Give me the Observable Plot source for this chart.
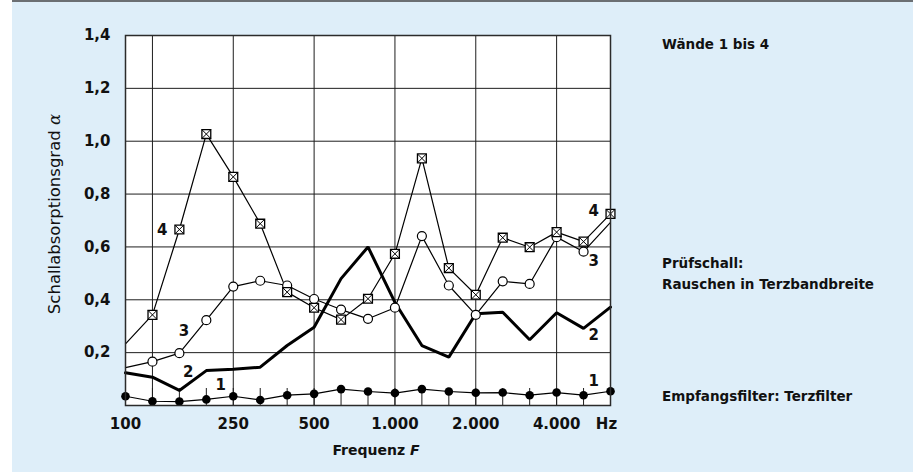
<!DOCTYPE html>
<html><head><meta charset="utf-8">
<script src="https://cdn.jsdelivr.net/npm/d3@7"></script>
<script src="https://cdn.jsdelivr.net/npm/@observablehq/plot@0.6"></script>
<style>
body{margin:0;background:#fff;}
#wrap{position:relative;width:913px;height:472px;overflow:hidden;}
#bg{position:absolute;left:12px;top:0;width:901px;height:472px;background:#deeef9;border-top:2px solid #6b6f73;box-sizing:border-box;}
#chart{position:absolute;left:0;top:0;}
</style></head><body>
<div id="wrap"><div id="bg"></div><div id="chart"></div></div>
<script>
// third-octave band centre frequencies (Hz)
const freqs = ["100","125","160","200","250","315","400","500","630","800","1000","1250","1600","2000","2500","3150","4000","5000","6300"];
// absorption coefficient alpha for walls 1..4
const wall1 = [0.035,0.016,0.015,0.023,0.035,0.021,0.039,0.044,0.062,0.053,0.047,0.062,0.053,0.048,0.049,0.039,0.049,0.039,0.054];
const wall2 = [0.124,0.107,0.057,0.132,0.137,0.145,0.227,0.296,0.480,0.600,0.390,0.227,0.183,0.347,0.353,0.249,0.351,0.292,0.372];
const wall3 = [0.143,0.166,0.198,0.323,0.450,0.472,0.454,0.403,0.363,0.328,0.370,0.641,0.454,0.343,0.470,0.460,0.637,0.582,0.693];
const wall4 = [0.233,0.343,0.666,1.027,0.865,0.688,0.429,0.370,0.325,0.404,0.574,0.935,0.520,0.419,0.635,0.599,0.656,0.620,0.725];
// axis ticks
const xTickFreqs = ["100","250","500","1000","2000","4000"];
const xTickLabels = ["100","250","500","1.000","2.000","4.000"];
const xGridFreqs = ["125","250","500","1000","2000","4000"];
const unitFreq = "6300";
const unitLabel = "Hz";
const yTicks = [0.2,0.4,0.6,0.8,1.0,1.2,1.4];
// curve numbers (band position, alpha)
const labelNames = ["4","3","2","1","4","3","2","1"];
const labelBand  = [1.36,2.17,2.33,3.53,17.38,17.38,17.38,17.38];
const labelAlpha = [0.665,0.280,0.126,0.077,0.737,0.545,0.265,0.092];
// texts
const yTitle = "Schallabsorptionsgrad ";
const yTitleSym = "α";
const xTitle = "Frequenz ";
const xTitleSym = "F";
const notes = [["Wände 1 bis 4"],["Prüfschall:","Rauschen in Terzbandbreite"],["Empfangsfilter: Terzfilter"]];

const idx = f => freqs.indexOf(f);
const rows = freqs.map((f,i)=>({i, f, w1: wall1[i], w2: wall2[i], w3: wall3[i], w4: wall4[i]}));
const labels = labelNames.map((t,k)=>({t, x: labelBand[k], y: labelAlpha[k]}));
const FONT = "DejaVu Sans";

const chart = Plot.plot({
  width: 913, height: 472,
  marginLeft: 125, marginRight: 303, marginTop: 35, marginBottom: 67,
  style: {background: "transparent", fontFamily: FONT, fontSize: "15px", fontWeight: "bold", color: "#111", overflow: "visible"},
  x: {type: "linear", domain: [0, freqs.length - 1]},
  y: {domain: [0, 1.4]},
  marks: [
    Plot.frame({fill: "white", stroke: null}),
    Plot.ruleY(yTicks, {stroke: "#1e1e1e", strokeWidth: 1}),
    Plot.ruleX(xGridFreqs, {x: idx, stroke: "#1e1e1e", strokeWidth: 1}),
    Plot.ruleX(freqs, {x: idx, y1: () => 0, y2: () => 0, insetBottom: 17, stroke: "#1e1e1e", strokeWidth: 1}),
    Plot.line(rows, {x: "i", y: "w2", stroke: "black", strokeWidth: 3, strokeLinejoin: "miter"}),
    Plot.line(rows, {x: "i", y: "w1", stroke: "black", strokeWidth: 1.2}),
    Plot.line(rows, {x: "i", y: "w3", stroke: "black", strokeWidth: 1.2}),
    Plot.line(rows, {x: "i", y: "w4", stroke: "black", strokeWidth: 1.2}),
    Plot.dot(rows, {x: "i", y: "w1", r: 4.3, fill: "black", stroke: "none"}),
    Plot.dot(rows, {filter: d => d.i > 0 && d.i < freqs.length - 1, x: "i", y: "w3", r: 4.5, fill: "white", stroke: "black", strokeWidth: 1.2}),
    Plot.dot(rows, {filter: d => d.i > 0, x: "i", y: "w4", r: 5, symbol: "square", fill: "white", stroke: "black", strokeWidth: 1.3}),
    Plot.dot(rows, {filter: d => d.i > 0, x: "i", y: "w4", r: 4, symbol: "times", stroke: "black", strokeWidth: 1}),
    Plot.text(labels, {x: "x", y: "y", text: "t", fontSize: 15, fontWeight: "bold", fill: "#111"}),
    Plot.frame({stroke: "#2b2b2b", strokeWidth: 1.5}),
    Plot.axisY({ticks: yTicks, tickSize: 0, tickPadding: 15, tickFormat: d => d.toFixed(1).replace(".", ","), label: null}),
    Plot.axisX({ticks: xTickFreqs.map(idx), tickSize: 0, tickPadding: 13, tickFormat: i => xTickLabels[xTickFreqs.indexOf(freqs[i])], label: null}),
    Plot.axisX({ticks: [idx(unitFreq)], tickSize: 0, tickPadding: 13, dx: -4, tickFormat: () => unitLabel, label: null})
  ]
});
document.getElementById("chart").appendChild(chart);

const svg = d3.select(chart);
// y title
const yt = svg.append("text")
  .attr("transform", "translate(60,214) rotate(-90)")
  .attr("text-anchor", "middle")
  .attr("font-family", FONT).attr("font-size", "16.5px").attr("font-weight", "normal").attr("fill", "#111");
yt.append("tspan").text(yTitle);
yt.append("tspan").attr("font-family", "DejaVu Serif").attr("font-style", "italic").text(yTitleSym);
// x title
const xt = svg.append("text")
  .attr("x", 376).attr("y", 455)
  .attr("text-anchor", "middle")
  .attr("font-family", FONT).attr("font-size", "14px").attr("font-weight", "bold").attr("fill", "#111");
xt.append("tspan").text(xTitle);
xt.append("tspan").attr("font-style", "italic").text(xTitleSym);
// right notes
const noteY = [49, 268, 401];
notes.forEach((lines, k) => {
  lines.forEach((line, j) => {
    svg.append("text").attr("x", 662).attr("y", noteY[k] + j * 20.7)
      .attr("text-anchor", "start")
      .attr("font-family", FONT).attr("font-size", "13.5px").attr("font-weight", "bold").attr("fill", "#111")
      .text(line);
  });
});
</script>
</body></html>
